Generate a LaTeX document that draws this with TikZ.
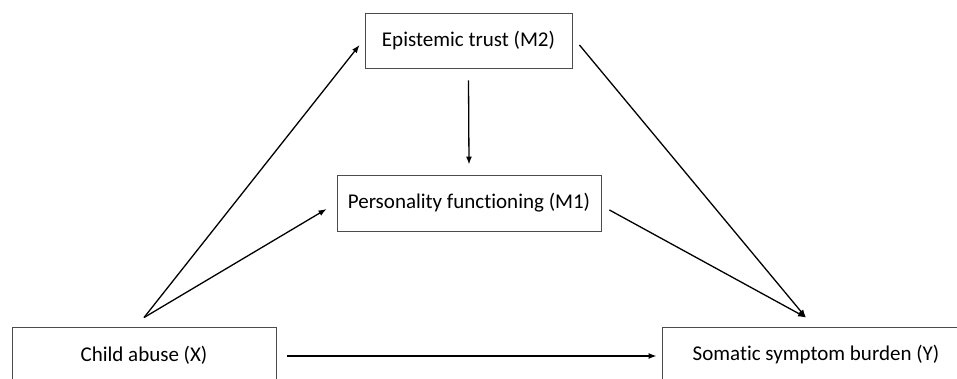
\documentclass[tikz,border=0pt]{standalone}
\usepackage{fontspec}
\setmainfont{Carlito}[Ligatures={NoCommon}]
\usetikzlibrary{arrows.meta}
\begin{document}
\begin{tikzpicture}[x=1pt,y=-1pt,
  box/.style={draw=black!70, line width=0.9pt, inner sep=0pt, font=\fontsize{21}{25}\selectfont},
  arr/.style={draw=black, line width=1.3pt, -{Latex[length=8pt,width=6pt]}},
  ln/.style={draw=black, line width=1.3pt}]
\useasboundingbox (0,0) rectangle (957,378);
\node[box, minimum width=264pt, minimum height=56pt] (ch) at (144,355) {Child abuse (X)};
\node[box, minimum width=308pt, minimum height=56pt] (so) at (816,355) {Somatic symptom burden (Y)};
\node[box, minimum width=207pt, minimum height=55pt] (ep) at (468.5,40.5) {Epistemic trust (M2)};
\node[box, minimum width=264pt, minimum height=56pt] (pe) at (469,203) {Personality functioning (M1)};
\draw[arr] ([yshift=9pt]ch.north) -- ([xshift=-5pt,yshift=-4.5pt]ep.west);
\draw[arr] ([yshift=9pt]ch.north) -- ([xshift=-10pt,yshift=-6pt]pe.west);
\draw[arr] ([yshift=-12pt]ep.south) -- ([yshift=10pt]pe.north);
\draw[arr] ([xshift=7pt,yshift=-4.5pt]ep.east) -- ([xshift=-10pt,yshift=9pt]so.north);
\draw[arr] ([xshift=8pt,yshift=-7pt]pe.east) -- ([xshift=-10pt,yshift=9pt]so.north);
\draw[arr] ([xshift=11pt,yshift=-1pt]ch.east) -- ([xshift=-5pt,yshift=-1pt]so.west);
\end{tikzpicture}
\end{document}
